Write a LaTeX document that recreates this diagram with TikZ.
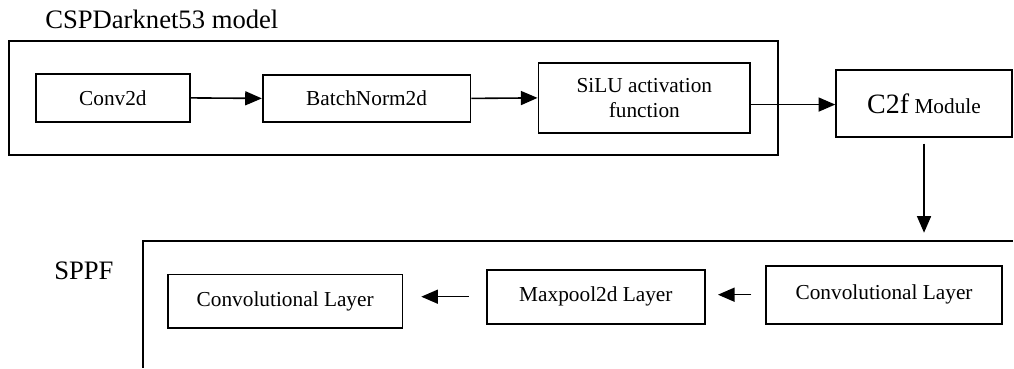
\documentclass[tikz,border=0pt]{standalone}
\usepackage{fontspec}
\setmainfont{Liberation Serif}
\usetikzlibrary{positioning, arrows.meta}

\begin{document}
\begin{tikzpicture}[x=0.75pt,y=-0.75pt,
	frame/.style={draw,line width=1.6pt},
	block/.style={draw,line width=1.3pt,align=center,inner sep=0pt,font=\fontsize{16}{19}\selectfont},
	flow/.style={-{Triangle[length=12.5pt,width=10.5pt]},line width=1.2pt}]
	%frame
	\draw[draw=none] (0,0) rectangle (1014,368);
	% Backbone
	\node[frame,minimum width=577.5pt,minimum height=85.5pt] (csp) at (394,98){};
	\node[font=\fontsize{20}{24}\selectfont] (csptitle) at (162,19){CSPDarknet53 model};
	\node[block,minimum width=115.5pt,minimum height=36pt] (conv) at (113,98){Conv2d};
	\node[block,minimum width=156pt,minimum height=35pt] (bnorm) at (367,98.5){BatchNorm2d};
	\node[block,minimum width=159pt,minimum height=52.5pt] (silu) at (645,98){SiLU activation\\function};
	\node[block,minimum width=132pt,minimum height=50pt] (ctwof) at (925,103.5){{\fontsize{21}{24}\selectfont C2f} Module};
	\draw[flow] (conv.east) -- (bnorm.west);
	\draw[flow] (bnorm.east) -- (silu.west);
	\draw[flow] ([yshift=-5pt]silu.east) -- ([yshift=-5pt]silu.east -| ctwof.west);
	% SPPF
	\coordinate (sppf) at (143,241);
	\draw[frame] (143,368) -- (sppf) -- (1014,241);
	\node[font=\fontsize{20}{24}\selectfont] (sppftitle) at (84,271){SPPF};
	\node[block,minimum width=177pt,minimum height=43.5pt] (conva) at (885,295){Convolutional Layer};
	\node[block,minimum width=164pt,minimum height=40.5pt] (maxpool) at (596.5,297){Maxpool2d Layer};
	\node[block,minimum width=176pt,minimum height=40pt] (convb) at (285.5,301.5){Convolutional Layer};
	\draw[flow,shorten <=4.5pt,shorten >=6pt] (ctwof.south) -- (ctwof.south |- sppf);
	\draw[flow,shorten <=10.5pt,shorten >=9pt] (conva.west) -- (conva.west -| maxpool.east);
	\draw[flow,shorten <=12.75pt,shorten >=13.5pt] (maxpool.west) -- (maxpool.west -| convb.east);
\end{tikzpicture}
\end{document}
